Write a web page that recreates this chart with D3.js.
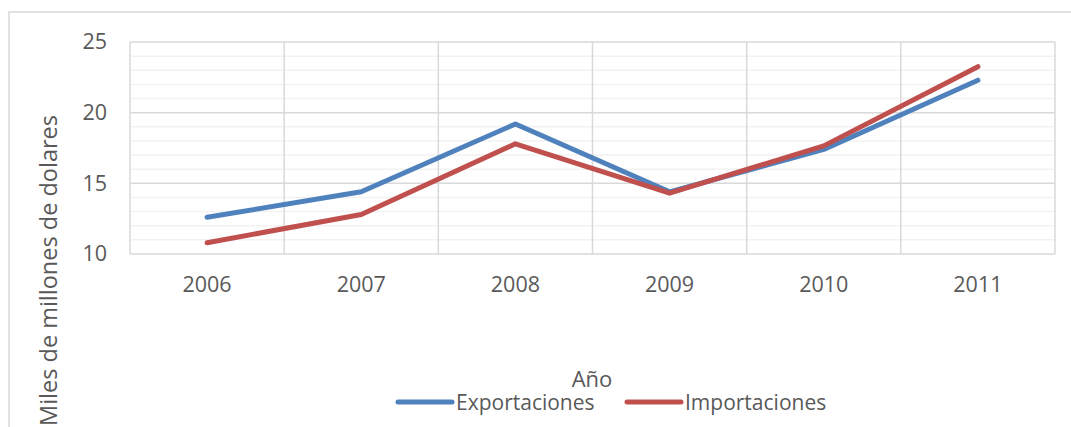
<!DOCTYPE html>
<html>
<head>
<meta charset="utf-8">
<script src="https://cdn.jsdelivr.net/npm/d3@7/dist/d3.min.js"></script>
<style>
  html, body { margin: 0; padding: 0; background: #ffffff; }
  svg { display: block; }
  text { font-family: "Open Sans", "Noto Sans", sans-serif; fill: #595959; }
</style>
</head>
<body>
<svg id="chart" width="1071" height="427"></svg>
<script>
// Exportaciones e importaciones anuales (miles de millones de dólares)
const years = ["2006", "2007", "2008", "2009", "2010", "2011"];
const exportaciones = [12.6, 14.4, 19.2, 14.4, 17.4, 22.3];
const importaciones = [10.8, 12.8, 17.8, 14.3, 17.65, 23.25];
const yTicks = [10, 15, 20, 25];
const yMinor = [11, 12, 13, 14, 16, 17, 18, 19, 21, 22, 23, 24];
const seriesNames = ["Exportaciones", "Importaciones"];
const seriesColors = ["#4F81BD", "#C0504D"];

const svg = d3.select("#chart");
const W = 1071, H = 427;
const plot = { left: 130, right: 1055, top: 42, bottom: 254 };

// Outer chart frame (top and left edges)
svg.append("path")
  .attr("d", `M9,${H} L9,12 L${W},12`)
  .attr("fill", "none")
  .attr("stroke", "#D9D9D9")
  .attr("stroke-width", 1.5);

const x = d3.scaleBand().domain(years).range([plot.left, plot.right]).padding(0);
const y = d3.scaleLinear().domain([10, 25]).range([plot.bottom, plot.top]);
const cx = d => x(d) + x.bandwidth() / 2;

const grid = svg.append("g");

// Minor horizontal gridlines
grid.selectAll("line.minor").data(yMinor).join("line")
  .attr("class", "minor")
  .attr("x1", plot.left).attr("x2", plot.right)
  .attr("y1", d => y(d)).attr("y2", d => y(d))
  .attr("stroke", "#F2F2F2").attr("stroke-width", 1.5);

// Major horizontal gridlines
grid.selectAll("line.major").data(yTicks).join("line")
  .attr("class", "major")
  .attr("x1", plot.left).attr("x2", plot.right)
  .attr("y1", d => y(d)).attr("y2", d => y(d))
  .attr("stroke", "#D9D9D9").attr("stroke-width", 1.5);

// Vertical gridlines at category boundaries
const bounds = years.map(d => x(d)).concat([plot.right]);
grid.selectAll("line.vert").data(bounds).join("line")
  .attr("class", "vert")
  .attr("x1", d => d).attr("x2", d => d)
  .attr("y1", plot.top).attr("y2", plot.bottom)
  .attr("stroke", "#D9D9D9").attr("stroke-width", 1.5);

// Y axis tick labels
const yAxis = svg.append("g")
  .attr("transform", `translate(${plot.left},0)`)
  .call(d3.axisLeft(y).tickValues(yTicks).tickSize(0).tickPadding(23).tickFormat(d3.format("d")));
yAxis.select(".domain").remove();
yAxis.selectAll("text").style("font-size", "21.5px").attr("fill", "#595959")
  .style("font-family", "'Open Sans', sans-serif");

// X axis category labels
const xAxis = svg.append("g")
  .attr("transform", `translate(0,${plot.bottom})`)
  .call(d3.axisBottom(x).tickSize(0).tickPadding(23));
xAxis.select(".domain").remove();
xAxis.selectAll("text").style("font-size", "21.5px").attr("fill", "#595959")
  .style("font-family", "'Open Sans', sans-serif");

// Series lines
const line = d3.line().x((d, i) => cx(years[i])).y(d => y(d));
[exportaciones, importaciones].forEach((vals, k) => {
  svg.append("path")
    .datum(vals)
    .attr("d", line)
    .attr("fill", "none")
    .attr("stroke", seriesColors[k])
    .attr("stroke-width", 5)
    .attr("stroke-linecap", "round")
    .attr("stroke-linejoin", "round");
});

// Axis titles
svg.append("text")
  .attr("x", 592).attr("y", 387)
  .attr("text-anchor", "middle")
  .style("font-size", "22px")
  .text("Año");

svg.append("text")
  .attr("transform", "translate(57,426) rotate(-90)")
  .attr("text-anchor", "start")
  .style("font-size", "23.5px")
  .text("Miles de millones de dolares");

// Legend
const legendX = [398, 627];
const legend = svg.append("g");
seriesNames.forEach((name, k) => {
  legend.append("line")
    .attr("x1", legendX[k]).attr("x2", legendX[k] + 54)
    .attr("y1", 402).attr("y2", 402)
    .attr("stroke", seriesColors[k])
    .attr("stroke-width", 5)
    .attr("stroke-linecap", "round");
  legend.append("text")
    .attr("x", legendX[k] + 58).attr("y", 410)
    .style("font-size", "21px")
    .text(name);
});
</script>
</body>
</html>
